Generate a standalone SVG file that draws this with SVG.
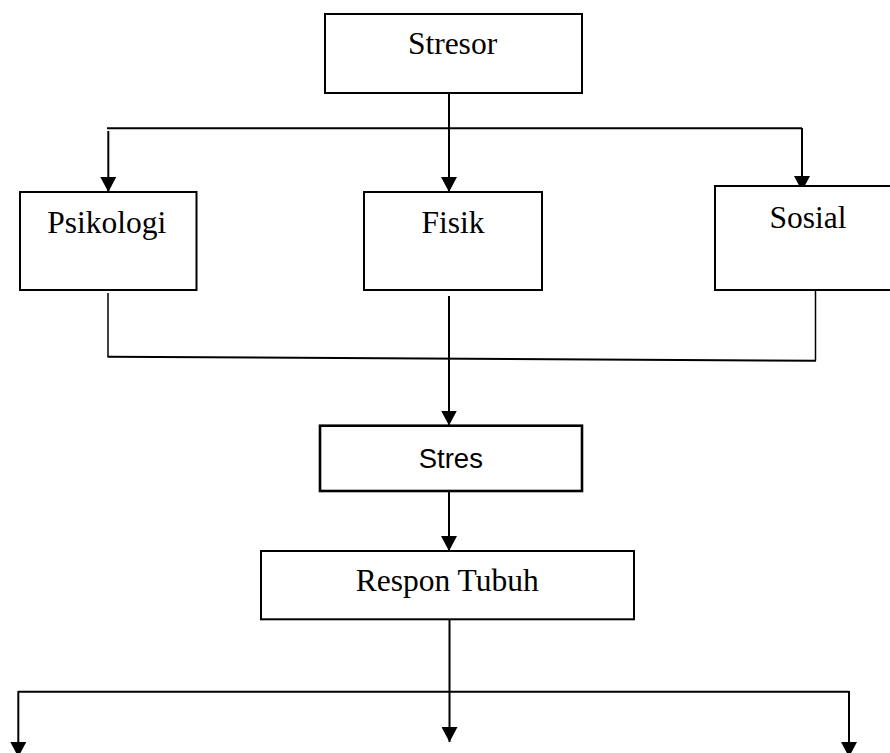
<svg xmlns="http://www.w3.org/2000/svg" width="890" height="753" viewBox="0 0 890 753">
<defs>
<marker id="ah" viewBox="0 0 15 16" refX="15" refY="8" markerWidth="15" markerHeight="16" markerUnits="userSpaceOnUse" orient="auto">
<path d="M0,0 L15,8 L0,16 Z" fill="#000"/>
</marker>
<style>
.box{fill:#fff;stroke:#000;stroke-width:2}
.thick{fill:#fff;stroke:#000;stroke-width:2.6}
.serif{font-family:"Liberation Serif","Times New Roman",serif;font-size:31.5px;fill:#000;text-anchor:middle}
.sans{font-family:"Liberation Sans",Arial,sans-serif;font-size:27.5px;fill:#000;text-anchor:middle}
.ln{fill:none;stroke:#000;stroke-width:2}
.thin{fill:none;stroke:#000;stroke-width:1.5}
.arr{fill:none;stroke:#000;stroke-width:2;marker-end:url(#ah)}
</style>
</defs>
<rect width="890" height="753" fill="#fff"/>
<g id="connectors">
<line class="ln" x1="449" y1="93" x2="449" y2="128"/>
<line class="ln" x1="107" y1="128.3" x2="802" y2="128.3"/>
<line class="arr" x1="108.3" y1="131" x2="108.3" y2="192"/>
<line class="arr" x1="449" y1="128" x2="449" y2="192"/>
<line class="arr" x1="802" y1="128" x2="802" y2="191"/>
<line class="thin" x1="108" y1="293" x2="108" y2="357"/>
<line class="thin" x1="815.5" y1="291" x2="815.5" y2="360.5"/>
<line class="ln" x1="107.5" y1="356.7" x2="816" y2="360.7"/>
<line class="arr" x1="449" y1="296" x2="449" y2="425.5"/>
<line class="arr" x1="449" y1="488" x2="449" y2="551"/>
<line class="ln" x1="449.5" y1="619" x2="449.5" y2="692"/>
<line class="ln" x1="18.3" y1="691.7" x2="849" y2="691.7"/>
<line class="arr" x1="18.3" y1="691" x2="18.3" y2="757"/>
<line class="arr" x1="449.5" y1="691" x2="449.5" y2="742"/>
<line class="arr" x1="849" y1="691" x2="849" y2="757"/>
</g>
<g id="stresor">
<rect class="box" x="325" y="14" width="257" height="79"/>
<text class="serif" x="452.5" y="54">Stresor</text>
</g>
<g id="psikologi">
<rect class="box" x="20" y="192" width="176.5" height="98"/>
<text class="serif" x="106.7" y="232.7">Psikologi</text>
</g>
<g id="fisik">
<rect class="box" x="364" y="192" width="178" height="98"/>
<text class="serif" x="453" y="232.7">Fisik</text>
</g>
<g id="sosial">
<rect class="box" x="715" y="186" width="180" height="104"/>
<text class="serif" x="808" y="228.3">Sosial</text>
</g>
<g id="stres">
<rect class="thick" x="320" y="425.7" width="262" height="65.3"/>
<text class="sans" x="450.8" y="468.3">Stres</text>
</g>
<g id="respon-tubuh">
<rect class="box" x="261" y="551" width="373" height="68.3"/>
<text class="serif" x="447.3" y="591">Respon Tubuh</text>
</g>
</svg>
